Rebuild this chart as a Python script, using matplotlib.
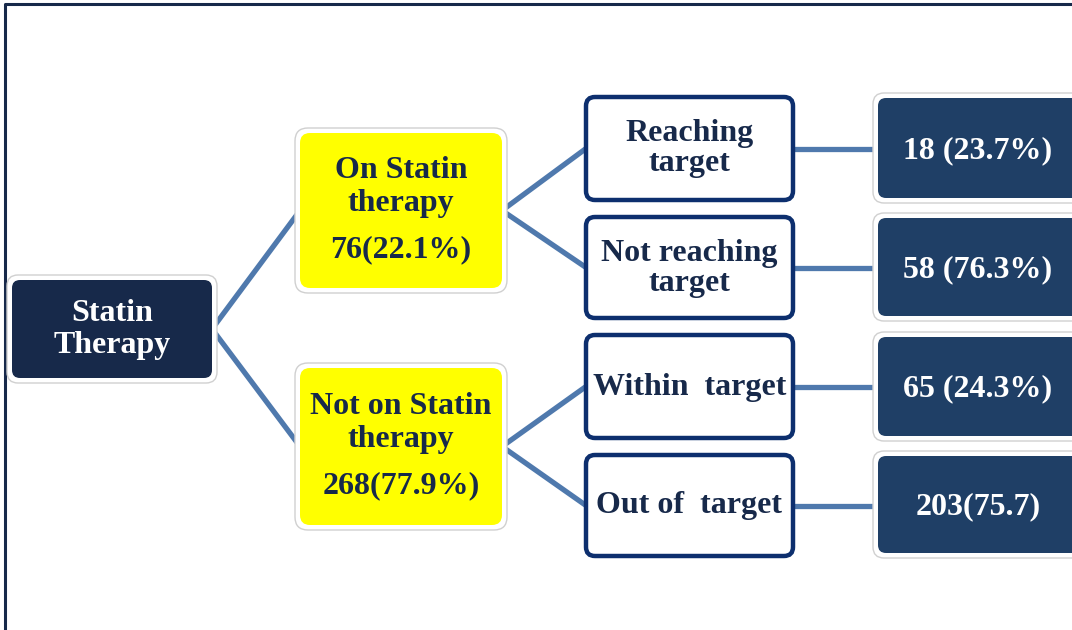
import matplotlib
matplotlib.use("Agg")
import matplotlib.pyplot as plt
from matplotlib.patches import FancyBboxPatch

# ---- data ----
root_label = ["Statin", "Therapy"]
level1_labels = [["On Statin", "therapy"], ["Not on Statin", "therapy"]]
level1_counts = [76, 268]
level1_pcts = [22.1, 77.9]
level2_labels = [["Reaching", "target"], ["Not reaching", "target"], ["Within  target"], ["Out of  target"]]
leaf_counts = [18, 58, 65, 203]
leaf_pcts = [23.7, 76.3, 24.3, 75.7]
leaf_formats = ["{c} ({p}%)", "{c} ({p}%)", "{c} ({p}%)", "{c}({p})"]

# ---- style ----
NAVY = "#17294a"
LEAF = "#1f3f66"
LINE = "#4f79ad"
BORDER = "#0d2f6e"
YELLOW = "#ffff00"
FONT = "Liberation Serif"
FS = 23

fig = plt.figure(figsize=(10.72, 6.30), dpi=100)
ax = fig.add_axes([0, 0, 1, 1])
ax.set_xlim(0, 1072)
ax.set_ylim(630, 0)
ax.axis("off")

# frame
ax.plot([4.5, 4.5, 1072], [630, 4, 4], color=NAVY, lw=2.2, solid_capstyle="butt", zorder=1)


def box(x0, y0, x1, y1, fc, ec="none", lw=0, r=8, rim=False, z=3):
    if rim:
        ax.add_patch(FancyBboxPatch((x0 - 5, y0 - 5), (x1 - x0) + 10, (y1 - y0) + 10,
                                    boxstyle=f"round,pad=0,rounding_size={r+3}",
                                    fc="white", ec="#d0d0d0", lw=1.0, zorder=z - 1))
    ax.add_patch(FancyBboxPatch((x0, y0), x1 - x0, y1 - y0,
                                boxstyle=f"round,pad=0,rounding_size={r}",
                                fc=fc, ec=ec, lw=lw, zorder=z))


def line(p, q):
    ax.plot([p[0], q[0]], [p[1], q[1]], color=LINE, lw=3.8, solid_capstyle="butt", zorder=2)


def txt(x, y, s, color):
    ax.text(x, y, s, ha="center", va="baseline", color=color, fontsize=FS,
            fontweight="bold", family=FONT, zorder=5)


# layout
root_box = (12, 280, 212, 378)
l1_boxes = [(300, 133, 502, 288), (300, 368, 502, 525)]
l2_boxes = [(586, 97, 793, 200), (586, 217, 793, 318), (586, 335, 793, 438), (586, 455, 793, 556)]
leaf_boxes = [(878, 98, 1080, 198), (878, 218, 1080, 316), (878, 337, 1080, 436), (878, 456, 1080, 553)]


def mid_y(b):
    return (b[1] + b[3]) / 2


def mid_x(b):
    return (b[0] + b[2]) / 2

# connectors
for b in l1_boxes:
    line((root_box[2], mid_y(root_box)), (b[0], mid_y(b)))
for i, b in enumerate(l2_boxes):
    parent = l1_boxes[i // 2]
    line((parent[2], mid_y(parent)), (b[0], mid_y(b)))
for b, lb in zip(l2_boxes, leaf_boxes):
    line((b[2], mid_y(b)), (lb[0], mid_y(b)))

# root
box(*root_box, fc=NAVY, rim=True)
for s, dy in zip(root_label, [-8, 24]):
    txt(mid_x(root_box), mid_y(root_box) + dy, s, "white")

# level 1
for b, lab, c, p in zip(l1_boxes, level1_labels, level1_counts, level1_pcts):
    box(*b, fc=YELLOW, rim=True, r=10)
    lines = lab + [f"{c}({p}%)"]
    for s, dy in zip(lines, [-32, 0, 46.5]):
        txt(mid_x(b), mid_y(b) + dy, s, NAVY)

# level 2
for b, lab in zip(l2_boxes, level2_labels):
    box(*b, fc="white", ec=BORDER, lw=3.2, r=9)
    offs = [-7, 23] if len(lab) == 2 else [8]
    for s, dy in zip(lab, offs):
        txt(mid_x(b), mid_y(b) + dy, s, NAVY)

# leaves
for b, c, p, fmt in zip(leaf_boxes, leaf_counts, leaf_pcts, leaf_formats):
    box(*b, fc=LEAF, rim=True, r=8)
    txt(978, mid_y(b) + 10, fmt.format(c=c, p=p), "white")

fig.savefig("out.png", dpi=100)
